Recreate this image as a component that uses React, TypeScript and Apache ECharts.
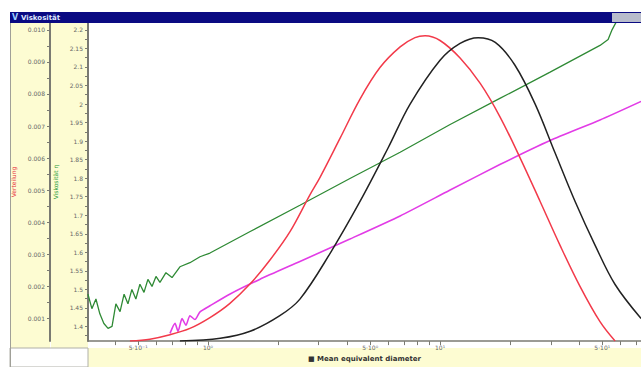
import React, { useEffect, useRef } from "react";
import * as echarts from "echarts";

// Mean equivalent diameter [µm] and values
const redDist: [number, number][] = [
  [0.461, 0], [0.562, 0.6], [0.686, 2.0], [0.836, 4.0], [1.02, 7.4], [1.24, 11.8],
  [1.52, 18.0], [1.85, 25.5], [2.26, 34.5], [2.75, 46.0], [3.04, 51.5], [3.71, 63.8],
  [4.52, 76.1], [5.51, 86.0], [6.73, 92.5], [7.8, 95.4], [8.62, 96.0], [10.0, 94.5],
  [12.2, 89.0], [14.9, 81.0], [18.1, 70.6], [22.1, 57.7], [27.0, 43.9], [32.9, 30.1],
  [40.1, 17.2], [48.9, 6.1], [56.8, 0],
];
const blackDist: [number, number][] = [
  [0.757, 0], [1.13, 0.9], [1.52, 3.1], [2.04, 8.0], [2.49, 13.2], [3.36, 27.6],
  [4.52, 43.9], [5.97, 60.7], [7.43, 74.5], [10.0, 88.3], [12.2, 93.6], [14.6, 95.4],
  [17.3, 93.9], [21.0, 86.8], [25.7, 74.5], [31.3, 59.2], [38.2, 43.9], [46.6, 30.1],
  [56.8, 17.8], [73.5, 7.1],
];
const greenVisc: [number, number][] = [
  [0.304, 1.487], [0.316, 1.448], [0.329, 1.474], [0.342, 1.434], [0.356, 1.408],
  [0.371, 1.395], [0.386, 1.4], [0.401, 1.461], [0.418, 1.44], [0.435, 1.487],
  [0.452, 1.461], [0.47, 1.5], [0.489, 1.474], [0.509, 1.514], [0.53, 1.492],
  [0.551, 1.527], [0.574, 1.508], [0.597, 1.535], [0.621, 1.519], [0.659, 1.545],
  [0.7, 1.532], [0.757, 1.561], [0.836, 1.572], [0.924, 1.588], [1.02, 1.598],
  [1.52, 1.656], [2.49, 1.727], [4.09, 1.799], [6.73, 1.87], [11.0, 1.944],
  [18.1, 2.015], [29.8, 2.086], [48.9, 2.158], [53.0, 2.174], [55.1, 2.2], [57.4, 2.221],
];
const magentaLine: [number, number][] = [
  [0.686, 0.00054], [0.721, 0.00085], [0.743, 0.0006], [0.773, 0.001], [0.804, 0.00079],
  [0.836, 0.00109], [0.879, 0.00097], [0.924, 0.00121], [1.02, 0.0014], [1.24, 0.00176],
  [1.67, 0.00222], [2.49, 0.00278], [4.09, 0.00348], [6.73, 0.0042], [11.0, 0.00500],
  [18.1, 0.00580], [29.8, 0.00655], [48.9, 0.00719], [73.5, 0.00777],
];

const leftLabels = [0.001, 0.002, 0.003, 0.004, 0.005, 0.006, 0.007, 0.008, 0.009, 0.01];
const greenLabels = [1.4, 1.45, 1.5, 1.55, 1.6, 1.65, 1.7, 1.75, 1.8, 1.85, 1.9, 1.95, 2.0, 2.05, 2.1, 2.15, 2.2];
const xTickValues = [0.4, 0.5, 0.6, 0.7, 0.8, 0.9, 1, 2, 3, 4, 5, 6, 7, 8, 9, 10, 20, 30, 40, 50, 60, 70];
const xLabelValues = [0.5, 1, 5, 10, 50];
const xLabelText: Record<string, string> = {
  "0.5": "5·10⁻¹", "1": "10⁰", "5": "5·10⁰", "10": "10¹", "50": "5·10¹",
};

const W = 641;
const H = 367;
const yellow = "#fdfcd2";
const axisGrey = "#7a7a72";

export default function App() {
  const ref = useRef<HTMLDivElement>(null);
  useEffect(() => {
    if (!ref.current) return;
    const chart = echarts.init(ref.current, undefined, { renderer: "svg" });
    const lg = (d: [number, number][]) => d.map(([x, y]) => [Math.log10(x), y]);
    const leftTicks: number[] = [];
    for (let i = 1; i <= 19; i++) leftTicks.push(0.0005 * i + 0.0005);
    const greenTicks: number[] = [];
    for (let v = 1.375; v <= 2.2251; v += 0.025) greenTicks.push(Math.round(v * 1000) / 1000);
    const labelStyle = { fontSize: 6, color: "#666", fontFamily: "DejaVu Sans" };
    chart.setOption({
      animation: false,
      backgroundColor: "#ffffff",
      grid: { left: 88, right: 0, top: 23, bottom: 19, containLabel: false },
      xAxis: {
        type: "value",
        min: -0.517,
        max: 1.866,
        name: "■ Mean equivalent diameter",
        nameLocation: "middle",
        nameGap: 10,
        nameTextStyle: { fontSize: 7, color: "#333", fontWeight: "bold", fontFamily: "DejaVu Sans" },
        axisLine: { show: true, onZero: false, lineStyle: { color: axisGrey, width: 1.5 } },
        axisTick: {
          show: true,
          length: 4,
          lineStyle: { color: axisGrey },
          customValues: xTickValues.map((v) => Math.log10(v)),
        },
        axisLabel: {
          ...labelStyle,
          margin: 3,
          customValues: xLabelValues.map((v) => Math.log10(v)),
          formatter: (v: number) => xLabelText[String(Math.round(Math.pow(10, v) * 10) / 10)] || "",
        },
        splitLine: { show: false },
      },
      yAxis: [
        {
          type: "value",
          position: "left",
          offset: 38,
          min: 0.000298,
          max: 0.010213,
          name: "Verteilung",
          nameLocation: "middle",
          nameRotate: 90,
          nameGap: 32,
          nameTextStyle: { fontSize: 6, color: "#e83040", fontFamily: "DejaVu Sans" },
          axisLine: { show: true, onZero: false, lineStyle: { color: axisGrey, width: 2 } },
          axisTick: { show: true, length: 3, lineStyle: { color: axisGrey }, customValues: leftTicks },
          axisLabel: {
            ...labelStyle,
            margin: 5,
            customValues: leftLabels,
            formatter: (v: number) => v.toFixed(3),
          },
          splitLine: { show: false },
        },
        {
          type: "value",
          position: "left",
          offset: 0,
          min: 1.3605,
          max: 2.2185,
          name: "Viskosität η",
          nameLocation: "middle",
          nameRotate: 90,
          nameGap: 26,
          nameTextStyle: { fontSize: 6, color: "#2a9a3a", fontFamily: "DejaVu Sans" },
          axisLine: { show: true, onZero: false, lineStyle: { color: axisGrey, width: 2 } },
          axisTick: { show: true, length: 3, lineStyle: { color: axisGrey }, customValues: greenTicks },
          axisLabel: {
            ...labelStyle,
            margin: 5,
            customValues: greenLabels,
            formatter: (v: number) => String(Math.round(v * 100) / 100),
          },
          splitLine: { show: false },
        },
        {
          type: "value", show: false, min: 0, max: 100,
          axisLine: { show: false, onZero: false }, axisTick: { show: false },
          axisLabel: { show: false }, splitLine: { show: false },
        },
      ],
      graphic: {
        elements: [
          { type: "rect", z: -10, shape: { x: 10, y: 23, width: 40, height: 325 }, style: { fill: yellow } },
          { type: "rect", z: -10, shape: { x: 51, y: 23, width: 37, height: 325 }, style: { fill: yellow } },
          { type: "rect", z: -10, shape: { x: 88, y: 348, width: 553, height: 19 }, style: { fill: yellow } },
          { type: "rect", z: -10, shape: { x: 10, y: 348, width: 78, height: 19 }, style: { fill: "#ffffff", stroke: "#b0b0a8", lineWidth: 1 } },
          { type: "line", z: 10, shape: { x1: 10.5, y1: 23, x2: 10.5, y2: 367 }, style: { stroke: "#a0a098", lineWidth: 1 } },
          { type: "rect", z: 20, shape: { x: 10, y: 12, width: 631, height: 11 }, style: { fill: "#0a0a82" } },
          { type: "rect", z: 21, shape: { x: 612, y: 13, width: 29, height: 9 }, style: { fill: "#b8bccc" } },
          { type: "text", z: 22, x: 12, y: 17.5, style: { text: "V", fill: "#9fd0ff", fontSize: 8, fontWeight: "bold", verticalAlign: "middle", fontFamily: "DejaVu Sans" } },
          { type: "text", z: 22, x: 21, y: 17.5, style: { text: "Viskosität", fill: "#dfe6ff", fontSize: 7, fontWeight: "bold", verticalAlign: "middle", fontFamily: "DejaVu Sans" } },
        ],
      },
      series: [
        {
          type: "line", name: "green", yAxisIndex: 1, data: lg(greenVisc), showSymbol: false,
          lineStyle: { color: "#2f8a35", width: 1.3 }, z: 3,
        },
        {
          type: "line", name: "magenta", yAxisIndex: 0, data: lg(magentaLine), showSymbol: false,
          smooth: 0.2,
          lineStyle: { color: "#e23ce6", width: 1.6 }, z: 3,
        },
        {
          type: "line", name: "red", yAxisIndex: 2, data: lg(redDist), showSymbol: false, smooth: 0.35,
          lineStyle: { color: "#f23a4a", width: 1.5 }, z: 4,
        },
        {
          type: "line", name: "black", yAxisIndex: 2, data: lg(blackDist), showSymbol: false, smooth: 0.35,
          lineStyle: { color: "#222222", width: 1.5 }, z: 4,
        },
      ],
    });
    return () => chart.dispose();
  }, []);
  return (
    <div
      ref={ref}
      style={{ position: "absolute", left: 0, top: 0, width: W, height: H }}
    />
  );
}
